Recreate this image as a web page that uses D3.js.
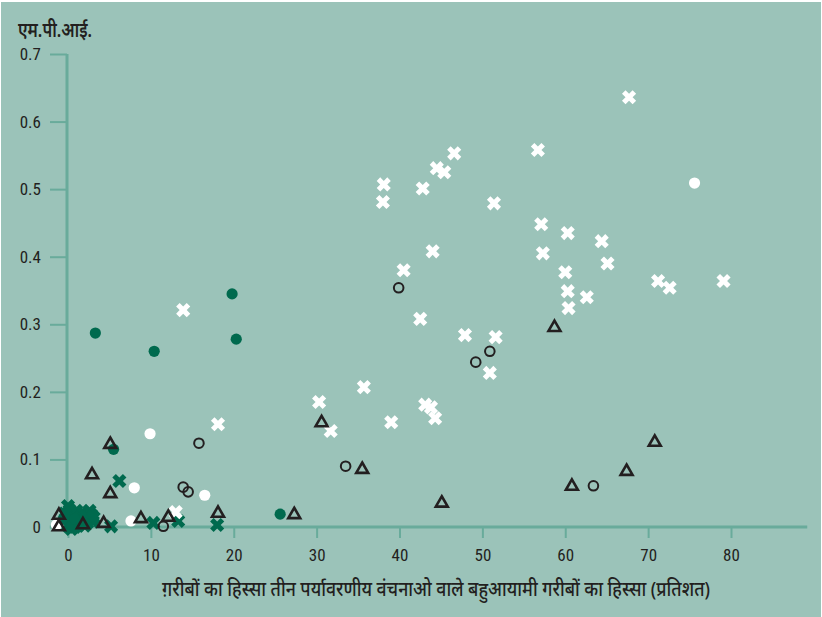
<!DOCTYPE html>
<html><head><meta charset="utf-8">
<script src="https://cdn.jsdelivr.net/npm/d3@7"></script>
<style>
html,body{margin:0;padding:0;background:#fff;}
svg{display:block;}
</style></head>
<body>
<script>
// ---- data (x: share %, y: MPI) ----
const xTicks = [0,10,20,30,40,50,60,70,80];
const yTicks = [0,0.1,0.2,0.3,0.4,0.5,0.6,0.7];
const xLabel = "ग़रीबों का हिस्सा तीन पर्यावरणीय वंचनाओ वाले बहुआयामी गरीबों का हिस्सा (प्रतिशत)";
const yLabel = "एम.पी.आई.";

const whiteCross = [[13.9,0.321],[18.1,0.152],[30.3,0.185],[31.7,0.142],[35.7,0.207],[39.0,0.155],[43.1,0.181],[43.8,0.177],[44.3,0.161],[42.5,0.308],[47.9,0.284],[51.6,0.281],[50.9,0.228],[40.5,0.380],[44.0,0.408],[38.0,0.481],[38.1,0.507],[42.8,0.501],[44.5,0.531],[45.4,0.525],[46.6,0.553],[51.4,0.479],[56.7,0.558],[67.7,0.636],[57.1,0.448],[57.3,0.405],[60.3,0.435],[60.0,0.377],[60.3,0.349],[60.4,0.324],[62.6,0.340],[64.4,0.423],[65.1,0.390],[71.2,0.364],[72.6,0.354],[79.1,0.364],[13.0,0.022]];
const whiteDot = [[75.6,0.509],[9.9,0.138],[8.0,0.058],[16.5,0.047],[7.6,0.009],[-1.4,0.003]];
const greenDot = [[3.3,0.287],[10.4,0.260],[19.8,0.345],[20.3,0.278],[5.5,0.115],[25.6,0.019],[0.5,0.003],[1.5,0.008],[0.8,0.012],[2.0,0.006]];
const greenCross = [[6.2,0.068],[5.2,0.001],[10.3,0.006],[13.3,0.009],[18.0,0.003],[0.0,0.031],[0.5,0.020],[1.0,0.010],[1.5,0.018],[2.0,0.012],[2.8,0.018],[0.3,0.005],[1.2,0.002],[2.3,0.006],[-0.3,0.012],[0.8,0.000],[3.0,0.008],[0.2,0.025],[1.0,0.024],[1.8,0.022],[2.6,0.024],[0.6,0.014],[1.4,0.012],[2.2,0.016],[3.1,0.014],[0.0,0.002],[1.0,0.004],[2.0,0.002],[-0.4,0.020],[0.4,-0.003]];
const blackRing = [[39.9,0.354],[49.2,0.244],[50.9,0.260],[63.4,0.061],[33.5,0.090],[15.8,0.124],[13.9,0.059],[14.5,0.052],[11.5,0.001]];
const blackTri = [[58.7,0.296],[70.8,0.126],[67.4,0.083],[60.8,0.061],[45.1,0.036],[30.6,0.155],[35.5,0.086],[27.3,0.019],[18.1,0.021],[5.1,0.123],[2.9,0.078],[5.1,0.050],[-1.1,0.018],[-1.1,0.001],[1.8,0.004],[4.3,0.006],[8.8,0.013],[12.1,0.015]];

// ---- layout ----
const W = 822, H = 617;
const BG = "#9bc3b9", AX = "#69ab9b", GREEN = "#006a4e", DARK = "#231f20";
const tickFont = "'Liberation Sans Narrow','Roboto Condensed','Arial Narrow',sans-serif";

const svg = d3.select("body").append("svg").attr("width", W).attr("height", H);
svg.append("rect").attr("x",1).attr("y",2).attr("width",W-2).attr("height",H-2).attr("fill",BG);

const x = d3.scaleLinear().domain([0,80]).range([68,731]);
const y = d3.scaleLinear().domain([0,0.7]).range([527,54]);

// axes
const gy = svg.append("g").attr("transform",`translate(${x(0)-1},0)`)
  .call(d3.axisLeft(y).tickValues(yTicks).tickSize(17).tickPadding(9)
    .tickFormat(d => d===0 ? "0" : d3.format(".1f")(d)));
gy.select(".domain").remove();
gy.selectAll(".tick line").attr("stroke",AX).attr("stroke-width",2);
gy.selectAll(".tick text").attr("fill",DARK).style("font-family",tickFont).style("font-size","17px");

const gx = svg.append("g").attr("transform",`translate(0,${y(0)})`)
  .call(d3.axisBottom(x).tickValues(xTicks).tickSize(11).tickPadding(11).tickFormat(d3.format("d")));
gx.select(".domain").remove();
gx.selectAll(".tick line").attr("stroke",AX).attr("stroke-width",2);
gx.selectAll(".tick text").attr("fill",DARK).style("font-family",tickFont).style("font-size","17px");

svg.append("line").attr("x1",x(0)-1).attr("x2",x(0)-1).attr("y1",y(0.7)).attr("y2",y(-0.009))
  .attr("stroke",AX).attr("stroke-width",3);
svg.append("line").attr("x1",x(-2.2)).attr("x2",x(89.2)).attr("y1",y(0)).attr("y2",y(0))
  .attr("stroke",AX).attr("stroke-width",3);

// labels
svg.append("text").attr("x",18).attr("y",37).text(yLabel)
  .attr("fill",DARK).style("font-family","'Noto Sans',sans-serif").style("font-size","20px").style("font-weight","600")
  .attr("textLength",74).attr("lengthAdjust","spacingAndGlyphs");
svg.append("text").attr("x",162).attr("y",596).text(xLabel)
  .attr("fill",DARK).style("font-family","'Noto Sans',sans-serif").style("font-size","20px").style("font-weight","500")
  .attr("textLength",548).attr("lengthAdjust","spacingAndGlyphs");

// marks
const plot = svg.append("g");
const cross = d3.symbol().type(d3.symbolCross).size(125);
const tri = d3.symbol().type(d3.symbolTriangle).size(62);

function crosses(data, color){
  plot.append("g").selectAll("path").data(data).join("path")
    .attr("d", cross).attr("fill", color)
    .attr("transform", d => `translate(${x(d[0])},${y(d[1])}) rotate(45)`);
}
function dots(data, color){
  plot.append("g").selectAll("circle").data(data).join("circle")
    .attr("cx", d => x(d[0])).attr("cy", d => y(d[1])).attr("r", 5.6).attr("fill", color);
}

dots(whiteDot, "#ffffff");
crosses(greenCross, GREEN);
dots(greenDot, GREEN);
crosses(whiteCross, "#ffffff");
plot.append("g").selectAll("circle").data(blackRing).join("circle")
  .attr("cx", d => x(d[0])).attr("cy", d => y(d[1])).attr("r", 4.8)
  .attr("fill","none").attr("stroke",DARK).attr("stroke-width",2);
plot.append("g").selectAll("path").data(blackTri).join("path")
  .attr("d", tri).attr("fill","none").attr("stroke",DARK).attr("stroke-width",2.6)
  .attr("transform", d => `translate(${x(d[0])},${y(d[1])+0.5})`);
</script>
</body></html>
